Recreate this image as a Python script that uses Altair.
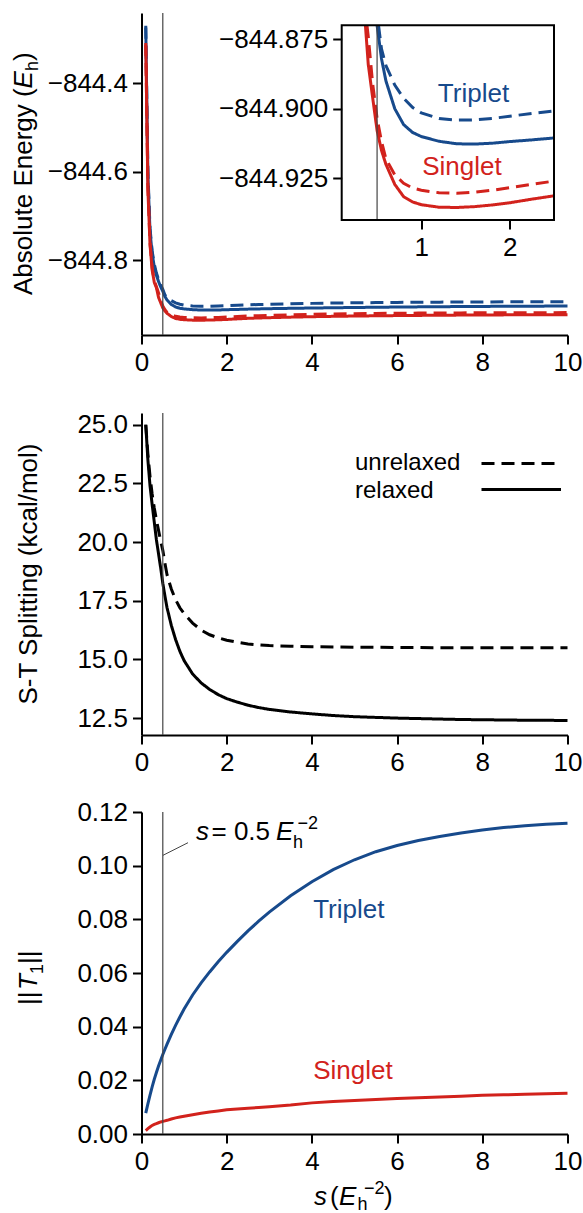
import altair as alt
import pandas as pd

# ---------------- data ----------------
S = [0.1, 0.15, 0.2, 0.25, 0.3, 0.35, 0.4, 0.45, 0.5, 0.55, 0.6, 0.7, 0.8, 0.9, 1.0,
     1.2, 1.4, 1.6, 1.8, 2.0, 2.25, 2.5, 2.75, 3.0, 3.5, 4.0, 4.5, 5.0, 5.5, 6.0,
     6.5, 7.0, 7.5, 8.0, 8.5, 9.0, 9.5, 10.0]

E_TRIPLET_RELAXED = [-844.274, -844.61, -844.735, -844.785, -844.815, -844.834, -844.848, -844.860, -844.870,
                     -844.882, -844.890, -844.900, -844.9057, -844.9085, -844.9100,
                     -844.9117, -844.9126, -844.9127, -844.9124, -844.9118,
                     -844.9112, -844.9105, -844.9100, -844.9095, -844.9087, -844.9080, -844.9074, -844.9068,
                     -844.9063, -844.9058, -844.9054, -844.9050, -844.9047, -844.9044, -844.9041, -844.9039,
                     -844.9037, -844.9035]
E_TRIPLET_UNRELAXED = [-844.270, -844.60, -844.728, -844.779, -844.809, -844.829, -844.843, -844.856, -844.866,
                       -844.8785, -844.8845, -844.8915, -844.8962, -844.8995, -844.9015,
                       -844.9035, -844.9041, -844.9040, -844.9035, -844.9027,
                       -844.9017, -844.9008, -844.9001, -844.8995, -844.8984, -844.8975, -844.8968, -844.8962,
                       -844.8957, -844.8953, -844.8950, -844.8947, -844.8945, -844.8943, -844.8941, -844.8940,
                       -844.8938, -844.8937]
E_SINGLET_RELAXED = [-844.313, -844.64, -844.765, -844.822, -844.850, -844.862, -844.884, -844.896, -844.9078,
                     -844.915, -844.920, -844.9272, -844.9316, -844.9335, -844.9345,
                     -844.9354, -844.9355, -844.9352, -844.9346, -844.9338,
                     -844.9325, -844.9313, -844.9305, -844.9298, -844.9286, -844.9276, -844.9268, -844.9261,
                     -844.9256, -844.9251, -844.9247, -844.9243, -844.9240, -844.9237, -844.9235, -844.9233,
                     -844.9231, -844.9230]
E_SINGLET_UNRELAXED = [-844.309, -844.635, -844.760, -844.817, -844.846, -844.860, -844.874, -844.891, -844.9035,
                       -844.9118, -844.9180, -844.9238, -844.9268, -844.9285, -844.9293,
                       -844.9302, -844.9304, -844.9300, -844.9293, -844.9284,
                       -844.9272, -844.9260, -844.9252, -844.9245, -844.9233, -844.9222, -844.9214, -844.9207,
                       -844.9202, -844.9198, -844.9195, -844.9192, -844.9190, -844.9189, -844.9187, -844.9186,
                       -844.9185, -844.9184]

ST_RELAXED = [25.0, 23.5, 22.4, 21.6, 20.85, 20.1, 19.5, 18.9, 18.25,
              17.7, 17.2, 16.45, 15.85, 15.35, 14.95,
              14.38, 14.0, 13.72, 13.5, 13.33,
              13.18, 13.05, 12.95, 12.87, 12.76, 12.68, 12.61, 12.56,
              12.53, 12.5, 12.48, 12.46, 12.44, 12.43, 12.42, 12.41, 12.405, 12.40]
ST_UNRELAXED = [25.0, 23.75, 22.8, 22.05, 21.45, 20.95, 20.5, 20.05, 19.65,
                19.1, 18.6, 18.0, 17.55, 17.2, 16.95,
                16.55, 16.25, 16.05, 15.92, 15.82,
                15.73, 15.66, 15.62, 15.59, 15.56, 15.54, 15.53, 15.52,
                15.515, 15.51, 15.505, 15.5, 15.5, 15.5, 15.5, 15.5, 15.5, 15.5]

T1_TRIPLET = [0.0078, 0.0112, 0.0145, 0.0176, 0.0204, 0.0229, 0.0253, 0.0275, 0.0296,
              0.0316, 0.0335, 0.0371, 0.0405, 0.0436, 0.0466,
              0.0518, 0.0563, 0.0604, 0.0642, 0.0677,
              0.0718, 0.0757, 0.0793, 0.0827, 0.0888, 0.0940, 0.0985, 0.1022,
              0.1052, 0.1075, 0.1094, 0.1109, 0.1122, 0.1133, 0.1142, 0.1149, 0.1154, 0.1158]
T1_SINGLET = [0.0013, 0.0020, 0.0026, 0.0032, 0.0036, 0.0039, 0.0042, 0.0045, 0.0047,
              0.0049, 0.0051, 0.0056, 0.0060, 0.0063, 0.0066,
              0.0072, 0.0077, 0.0082, 0.0086, 0.0090,
              0.0093, 0.0096, 0.0099, 0.0102, 0.0108, 0.0116, 0.0121, 0.0125,
              0.0129, 0.0132, 0.0135, 0.0138, 0.0141, 0.0144, 0.0146, 0.0148, 0.0150, 0.0152]

STATES = ["Triplet", "Singlet"]
KINDS = ["relaxed", "unrelaxed"]
INSET_X = [0.1, 2.5]
INSET_Y = [-844.94, -844.87]
INSET_LABELS = ["Triplet", "Singlet"]
INSET_LABEL_S = [1.59, 1.46]
INSET_LABEL_E = [-844.8948, -844.9208]
T1_LABEL_S = [4.03, 4.03]
T1_LABEL_V = [0.0836, 0.0233]

# ---------------- style ----------------
W, H = 426, 322
FONT = "Liberation Sans"
BLUE, RED = "#174a8c", "#d2221c"
DASH = [13, 7]
VCOL = "#444444"
TS = 26  # text size
SS = 18  # script size

# ---------------- tables ----------------
series = {("Triplet", "relaxed"): E_TRIPLET_RELAXED, ("Triplet", "unrelaxed"): E_TRIPLET_UNRELAXED,
          ("Singlet", "relaxed"): E_SINGLET_RELAXED, ("Singlet", "unrelaxed"): E_SINGLET_UNRELAXED}
rows = []
for (st, kd), vals in series.items():
    for s, e in zip(S, vals):
        rows.append({"s": s, "E": e, "state": st, "kind": kd})
energy = pd.DataFrame(rows)


def clip_top(xs, ys, xmin, xmax, ytop):
    out = []
    prev = None
    for x, y in zip(xs, ys):
        if x < xmin or x > xmax:
            continue
        inside = y <= ytop
        if prev is not None and inside != prev[2]:
            x0, y0, _ = prev
            t = (ytop - y0) / (y - y0)
            out.append((x0 + t * (x - x0), ytop))
        if inside:
            out.append((x, y))
        prev = (x, y, inside)
    return out


rows = []
for (st, kd), vals in series.items():
    for x, y in clip_top(S, vals, INSET_X[0], INSET_X[1], INSET_Y[1]):
        rows.append({"s": x, "E": y, "state": st, "kind": kd})
inset = pd.DataFrame(rows)

st_rows = []
for kd, vals in (("relaxed", ST_RELAXED), ("unrelaxed", ST_UNRELAXED)):
    for s, v in zip(S, vals):
        st_rows.append({"s": s, "v": v, "kind": kd})
split = pd.DataFrame(st_rows)

t_rows = []
for st, vals in (("Triplet", T1_TRIPLET), ("Singlet", T1_SINGLET)):
    for s, v in zip(S, vals):
        t_rows.append({"s": s, "v": v, "state": st})
t1 = pd.DataFrame(t_rows)

inset_lab = pd.DataFrame({"s": INSET_LABEL_S, "E": INSET_LABEL_E, "state": INSET_LABELS})
t1_lab = pd.DataFrame({"s": T1_LABEL_S, "v": T1_LABEL_V, "state": INSET_LABELS})


def one():
    return pd.DataFrame({"k": [0]})


def txt(text, x, y, size=TS, style="normal", angle=0, align="left", baseline="alphabetic", color="black"):
    return alt.Chart(one()).mark_text(text=text, font=FONT, fontSize=size, fontStyle=style, angle=angle,
                                      align=align, baseline=baseline, color=color).encode(
        x=alt.value(x), y=alt.value(y))


color_enc = alt.Color("state:N", scale=alt.Scale(domain=STATES, range=[BLUE, RED]), legend=None)
dash_enc = alt.StrokeDash("kind:N", scale=alt.Scale(domain=KINDS, range=[[1, 0], DASH]), legend=None)
xs_main = alt.Scale(domain=[0, 10], nice=False, zero=False)
x_axis = alt.Axis(values=[0, 2, 4, 6, 8, 10], title=None)

# ---------------- top panel ----------------
ys_top = alt.Scale(domain=[-844.969, -844.241], nice=False, zero=False)
top_lines = alt.Chart(energy).mark_line(strokeWidth=3, strokeCap="butt").encode(
    x=alt.X("s:Q", scale=xs_main, axis=x_axis),
    y=alt.Y("E:Q", scale=ys_top, axis=alt.Axis(values=[-844.8, -844.6, -844.4], format=".1f", title=None)),
    color=color_enc, strokeDash=dash_enc, detail="kind:N")
top_vline = alt.Chart(one()).mark_rule(color=VCOL, strokeWidth=1.2).encode(x=alt.datum(0.5))
TX = -109.5
top_title = [
    txt("Absolute Energy (", TX, 282, angle=270),
    txt("E", TX, 75.4, style="italic", angle=270),
    txt("h", TX + 6, 58.1, size=SS, angle=270),
    txt(")", TX, 48.0, angle=270),
]
main_top = alt.layer(top_lines, top_vline, *top_title)

IL, IR, IT, IB = 200.2, 412.5, 12.3, 207.0
xs_in = alt.Scale(domain=INSET_X, range=[IL, IR], nice=False, zero=False)
ys_in = alt.Scale(domain=INSET_Y, range=[IB, IT], nice=False, zero=False)
inset_lines = alt.Chart(inset).mark_line(strokeWidth=3, strokeCap="butt").encode(
    x=alt.X("s:Q", scale=xs_in, axis=alt.Axis(orient="bottom", offset=-(H - IB), values=[1, 2], format="d",
                                              domain=False, title=None)),
    y=alt.Y("E:Q", scale=ys_in, axis=alt.Axis(orient="left", offset=-IL,
                                              values=[-844.925, -844.9, -844.875], format=".3f",
                                              domain=False, title=None)),
    color=color_enc, strokeDash=dash_enc, detail="kind:N")
inset_vline = alt.Chart(one()).mark_rule(color=VCOL, strokeWidth=1.2).encode(
    x=alt.datum(0.5), y=alt.datum(INSET_Y[0]), y2=alt.datum(INSET_Y[1]))
inset_text = alt.Chart(inset_lab).mark_text(font=FONT, fontSize=TS, align="center", baseline="middle").encode(
    x=alt.X("s:Q", scale=xs_in), y=alt.Y("E:Q", scale=ys_in), text="state:N", color=color_enc)
inset_frame = alt.Chart(one()).mark_rect(fillOpacity=0, stroke="black", strokeWidth=2).encode(
    x=alt.value(IL), x2=alt.value(IR), y=alt.value(IT), y2=alt.value(IB))
inset_layer = alt.layer(inset_lines, inset_vline, inset_text, inset_frame)

top = alt.layer(main_top, inset_layer).resolve_scale(x="independent", y="independent").properties(
    width=W, height=H)

# ---------------- middle panel ----------------
ys_mid = alt.Scale(domain=[11.78, 25.5], nice=False, zero=False)
mid_lines = alt.Chart(split).mark_line(strokeWidth=3, strokeCap="butt", color="black").encode(
    x=alt.X("s:Q", scale=xs_main, axis=x_axis),
    y=alt.Y("v:Q", scale=ys_mid, axis=alt.Axis(values=[12.5, 15.0, 17.5, 20.0, 22.5, 25.0], format=".1f",
                                               title=None)),
    strokeDash=dash_enc)
mid_vline = alt.Chart(one()).mark_rule(color=VCOL, strokeWidth=1.2).encode(x=alt.datum(0.5))
LY1, LY2 = 49.5, 77.5
mid_extra = [
    txt("S-T Splitting (kcal/mol)", -104.2, H / 2, angle=270, align="center"),
    txt("unrelaxed", 213.5, LY1, size=24, baseline="middle"),
    txt("relaxed", 213.5, LY2, size=24, baseline="middle"),
    alt.Chart(one()).mark_rule(color="black", strokeWidth=3, strokeDash=DASH).encode(
        x=alt.value(340), x2=alt.value(418.5), y=alt.value(LY1 + 1)),
    alt.Chart(one()).mark_rule(color="black", strokeWidth=3).encode(
        x=alt.value(340), x2=alt.value(419.5), y=alt.value(LY2 - 1)),
]
mid = alt.layer(mid_lines, mid_vline, *mid_extra).properties(width=W, height=H)

# ---------------- bottom panel ----------------
ys_bot = alt.Scale(domain=[0, 0.12], nice=False, zero=False)
bot_lines = alt.Chart(t1).mark_line(strokeWidth=3, strokeCap="butt").encode(
    x=alt.X("s:Q", scale=xs_main, axis=x_axis),
    y=alt.Y("v:Q", scale=ys_bot, axis=alt.Axis(values=[0, 0.02, 0.04, 0.06, 0.08, 0.10, 0.12], format=".2f",
                                               title=None)),
    color=color_enc)
bot_vline = alt.Chart(one()).mark_rule(color=VCOL, strokeWidth=1.2).encode(x=alt.datum(0.5))
bot_text = alt.Chart(t1_lab).mark_text(font=FONT, fontSize=TS, align="left", baseline="middle").encode(
    x=alt.X("s:Q", scale=xs_main), y=alt.Y("v:Q", scale=ys_bot), text="state:N", color=color_enc)
BX = -104.5
bot_extra = [
    # y title ||T1||
    txt("||", BX, 193, angle=270),
    txt("T", BX, 178, style="italic", angle=270),
    txt("1", BX + 6, 162, size=SS, angle=270),
    txt("||", BX, 152, angle=270),
    # annotation s = 0.5 Eh^-2
    txt("s", 54.5, 28, style="italic"),
    txt("= 0.5", 70, 28),
    txt("E", 134.5, 28, style="italic"),
    txt("h", 151.5, 36, size=SS),
    txt("\u22122", 156, 17, size=SS),
    alt.Chart(one()).mark_rule(color=VCOL, strokeWidth=1).encode(
        x=alt.value(21.5), x2=alt.value(46.5), y=alt.value(43.3), y2=alt.value(30.7)),
    # x title s (Eh^-2)
    txt("s", 172.5, 393, style="italic"),
    txt("(", 188.5, 393),
    txt("E", 197.5, 393, style="italic"),
    txt("h", 216, 398, size=SS),
    txt("\u22122", 222.5, 382, size=SS),
    txt(")", 242.5, 393),
]
bot = alt.layer(bot_lines, bot_vline, bot_text, *bot_extra).properties(width=W, height=H)

chart = alt.vconcat(alt.vconcat(top, mid, spacing=36), bot, spacing=24).properties(
    padding={"left": 10.5, "top": 12, "right": 0, "bottom": 0}
).configure_axis(
    domainColor="black", domainWidth=2, tickColor="black", tickWidth=2, tickSize=9,
    labelFont=FONT, labelFontSize=26, labelColor="black", labelPadding=5, grid=False,
    labelFlush=False
).configure_view(stroke=None)

chart.save("out.html", embed_options={"renderer": "svg", "actions": False})
